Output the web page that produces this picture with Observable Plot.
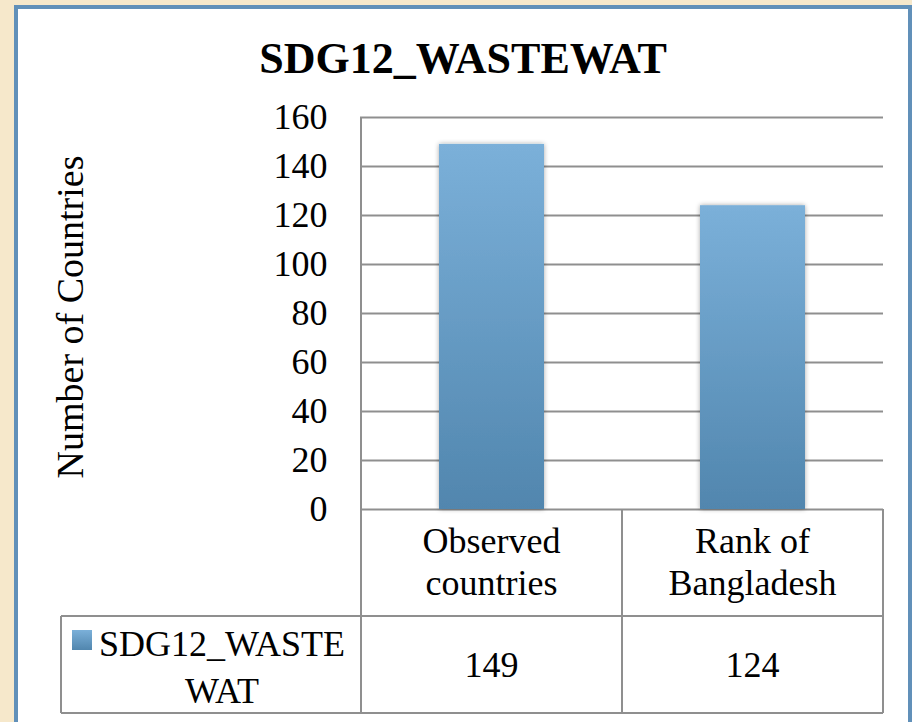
<!DOCTYPE html>
<html><head><meta charset="utf-8">
<script src="https://cdn.jsdelivr.net/npm/d3@7"></script>
<script src="https://cdn.jsdelivr.net/npm/@observablehq/plot@0.6"></script>
<style>
html,body{margin:0;padding:0;}
body{width:912px;height:722px;overflow:hidden;background:#f6e8cb;position:relative;}
#panel{position:absolute;left:14px;top:5px;width:898px;height:740px;box-sizing:border-box;border:4px solid #6190b9;background:#fff;}
#chart{position:absolute;left:0;top:0;}
</style></head><body>
<div id="panel"></div>
<div id="chart"></div>
<script>
const title = "SDG12_WASTEWAT";
const yLabel = "Number of Countries";
const categories = ["Observed countries", "Rank of Bangladesh"];
const categoryLines = [["Observed", "countries"], ["Rank of", "Bangladesh"]];
const values = [149, 124];
const seriesLines = ["SDG12_WASTE", "WAT"];
const yTicks = [0, 20, 40, 60, 80, 100, 120, 140, 160];

const data = categories.map((c, i) => ({category: c, value: values[i]}));
const FONT = "'Liberation Serif','Times New Roman',Times,serif";
const GRID = "#8f8f8f";

const defs = () => {
  const d = d3.create("svg:defs");
  const g = d.append("linearGradient").attr("id", "barGrad")
    .attr("x1", 0).attr("y1", 0).attr("x2", 0).attr("y2", 1);
  g.append("stop").attr("offset", "0%").attr("stop-color", "#7bb0d9");
  g.append("stop").attr("offset", "100%").attr("stop-color", "#5186ae");
  const f = d.append("filter").attr("id", "shadow").attr("x", "-20%").attr("y", "-5%").attr("width", "140%").attr("height", "110%");
  f.append("feGaussianBlur").attr("in", "SourceAlpha").attr("stdDeviation", 2.5);
  f.append("feOffset").attr("dx", 0).attr("dy", 0).attr("result", "b");
  f.append("feComponentTransfer").append("feFuncA").attr("type", "linear").attr("slope", 0.35);
  const m = f.append("feMerge");
  m.append("feMergeNode");
  m.append("feMergeNode").attr("in", "SourceGraphic");
  return d.node();
};

const chart = Plot.plot({
  width: 912, height: 722,
  marginLeft: 360, marginRight: 29, marginTop: 117, marginBottom: 213,
  style: {background: "transparent", fontFamily: FONT, fontSize: "36px", color: "#000", overflow: "visible"},
  x: {domain: categories, padding: 0, axis: null},
  y: {domain: [0, 160], axis: null},
  marks: [
    defs,
    Plot.gridY(yTicks, {stroke: GRID, strokeOpacity: 1, strokeWidth: 2}),
    Plot.axisY(yTicks, {tickSize: 0, tickPadding: 33, fontSize: 36, label: null, fill: "#000"}),
    Plot.barY(data, {x: "category", y: "value", fill: "url(#barGrad)", insetLeft: 78, insetRight: 78}),
  ]
});
d3.select(chart).selectAll("g[aria-label='bar'] rect").attr("filter", "url(#shadow)");

const xs = chart.scale("x"), ys = chart.scale("y");
const bw = xs.bandwidth;
const xL = xs.apply(categories[0]);
const xR = xs.apply(categories[categories.length - 1]) + bw;
const y0 = ys.apply(0), yTop = ys.apply(yTicks[yTicks.length - 1]);
const rowMid = y0 + 107, rowBot = y0 + 204, legendLeft = 61;

const svg = d3.select(chart);
const t = svg.append("g").attr("stroke", GRID).attr("stroke-width", 2).attr("fill", "none");
t.append("line").attr("x1", xL).attr("x2", xL).attr("y1", yTop).attr("y2", rowBot);
categories.forEach(c => {
  const xe = xs.apply(c) + bw;
  t.append("line").attr("x1", xe).attr("x2", xe).attr("y1", y0).attr("y2", rowBot);
});
t.append("line").attr("x1", legendLeft).attr("x2", xR).attr("y1", rowMid).attr("y2", rowMid);
t.append("line").attr("x1", legendLeft).attr("x2", xR).attr("y1", rowBot).attr("y2", rowBot);
t.append("line").attr("x1", legendLeft).attr("x2", legendLeft).attr("y1", rowMid).attr("y2", rowBot);

const txt = svg.append("g").attr("font-family", FONT).attr("fill", "#000");
categories.forEach((c, i) => {
  const cx = xs.apply(c) + bw / 2;
  categoryLines[i].forEach((ln, j) => {
    txt.append("text").attr("x", cx).attr("y", y0 + 44 + j * 42).attr("text-anchor", "middle").attr("font-size", 36).text(ln);
  });
  txt.append("text").attr("x", cx).attr("y", y0 + 168).attr("text-anchor", "middle").attr("font-size", 36).text(values[i]);
});
// legend key + series name
txt.append("rect").attr("x", 72).attr("y", y0 + 121).attr("width", 20).attr("height", 20).attr("fill", "url(#barGrad)");
txt.append("text").attr("x", 99).attr("y", y0 + 147).attr("text-anchor", "start").attr("font-size", 36).text(seriesLines[0]);
txt.append("text").attr("x", 222).attr("y", y0 + 194).attr("text-anchor", "middle").attr("font-size", 36).text(seriesLines[1]);
// title
txt.append("text").attr("x", 463).attr("y", 73).attr("text-anchor", "middle").attr("font-size", 44).attr("font-weight", "bold").text(title);
// y label
txt.append("text").attr("transform", `translate(83,${(y0 + yTop) / 2 + 4}) rotate(-90)`).attr("text-anchor", "middle").attr("font-size", 38).text(yLabel);

document.getElementById("chart").appendChild(chart);
</script>
</body></html>
